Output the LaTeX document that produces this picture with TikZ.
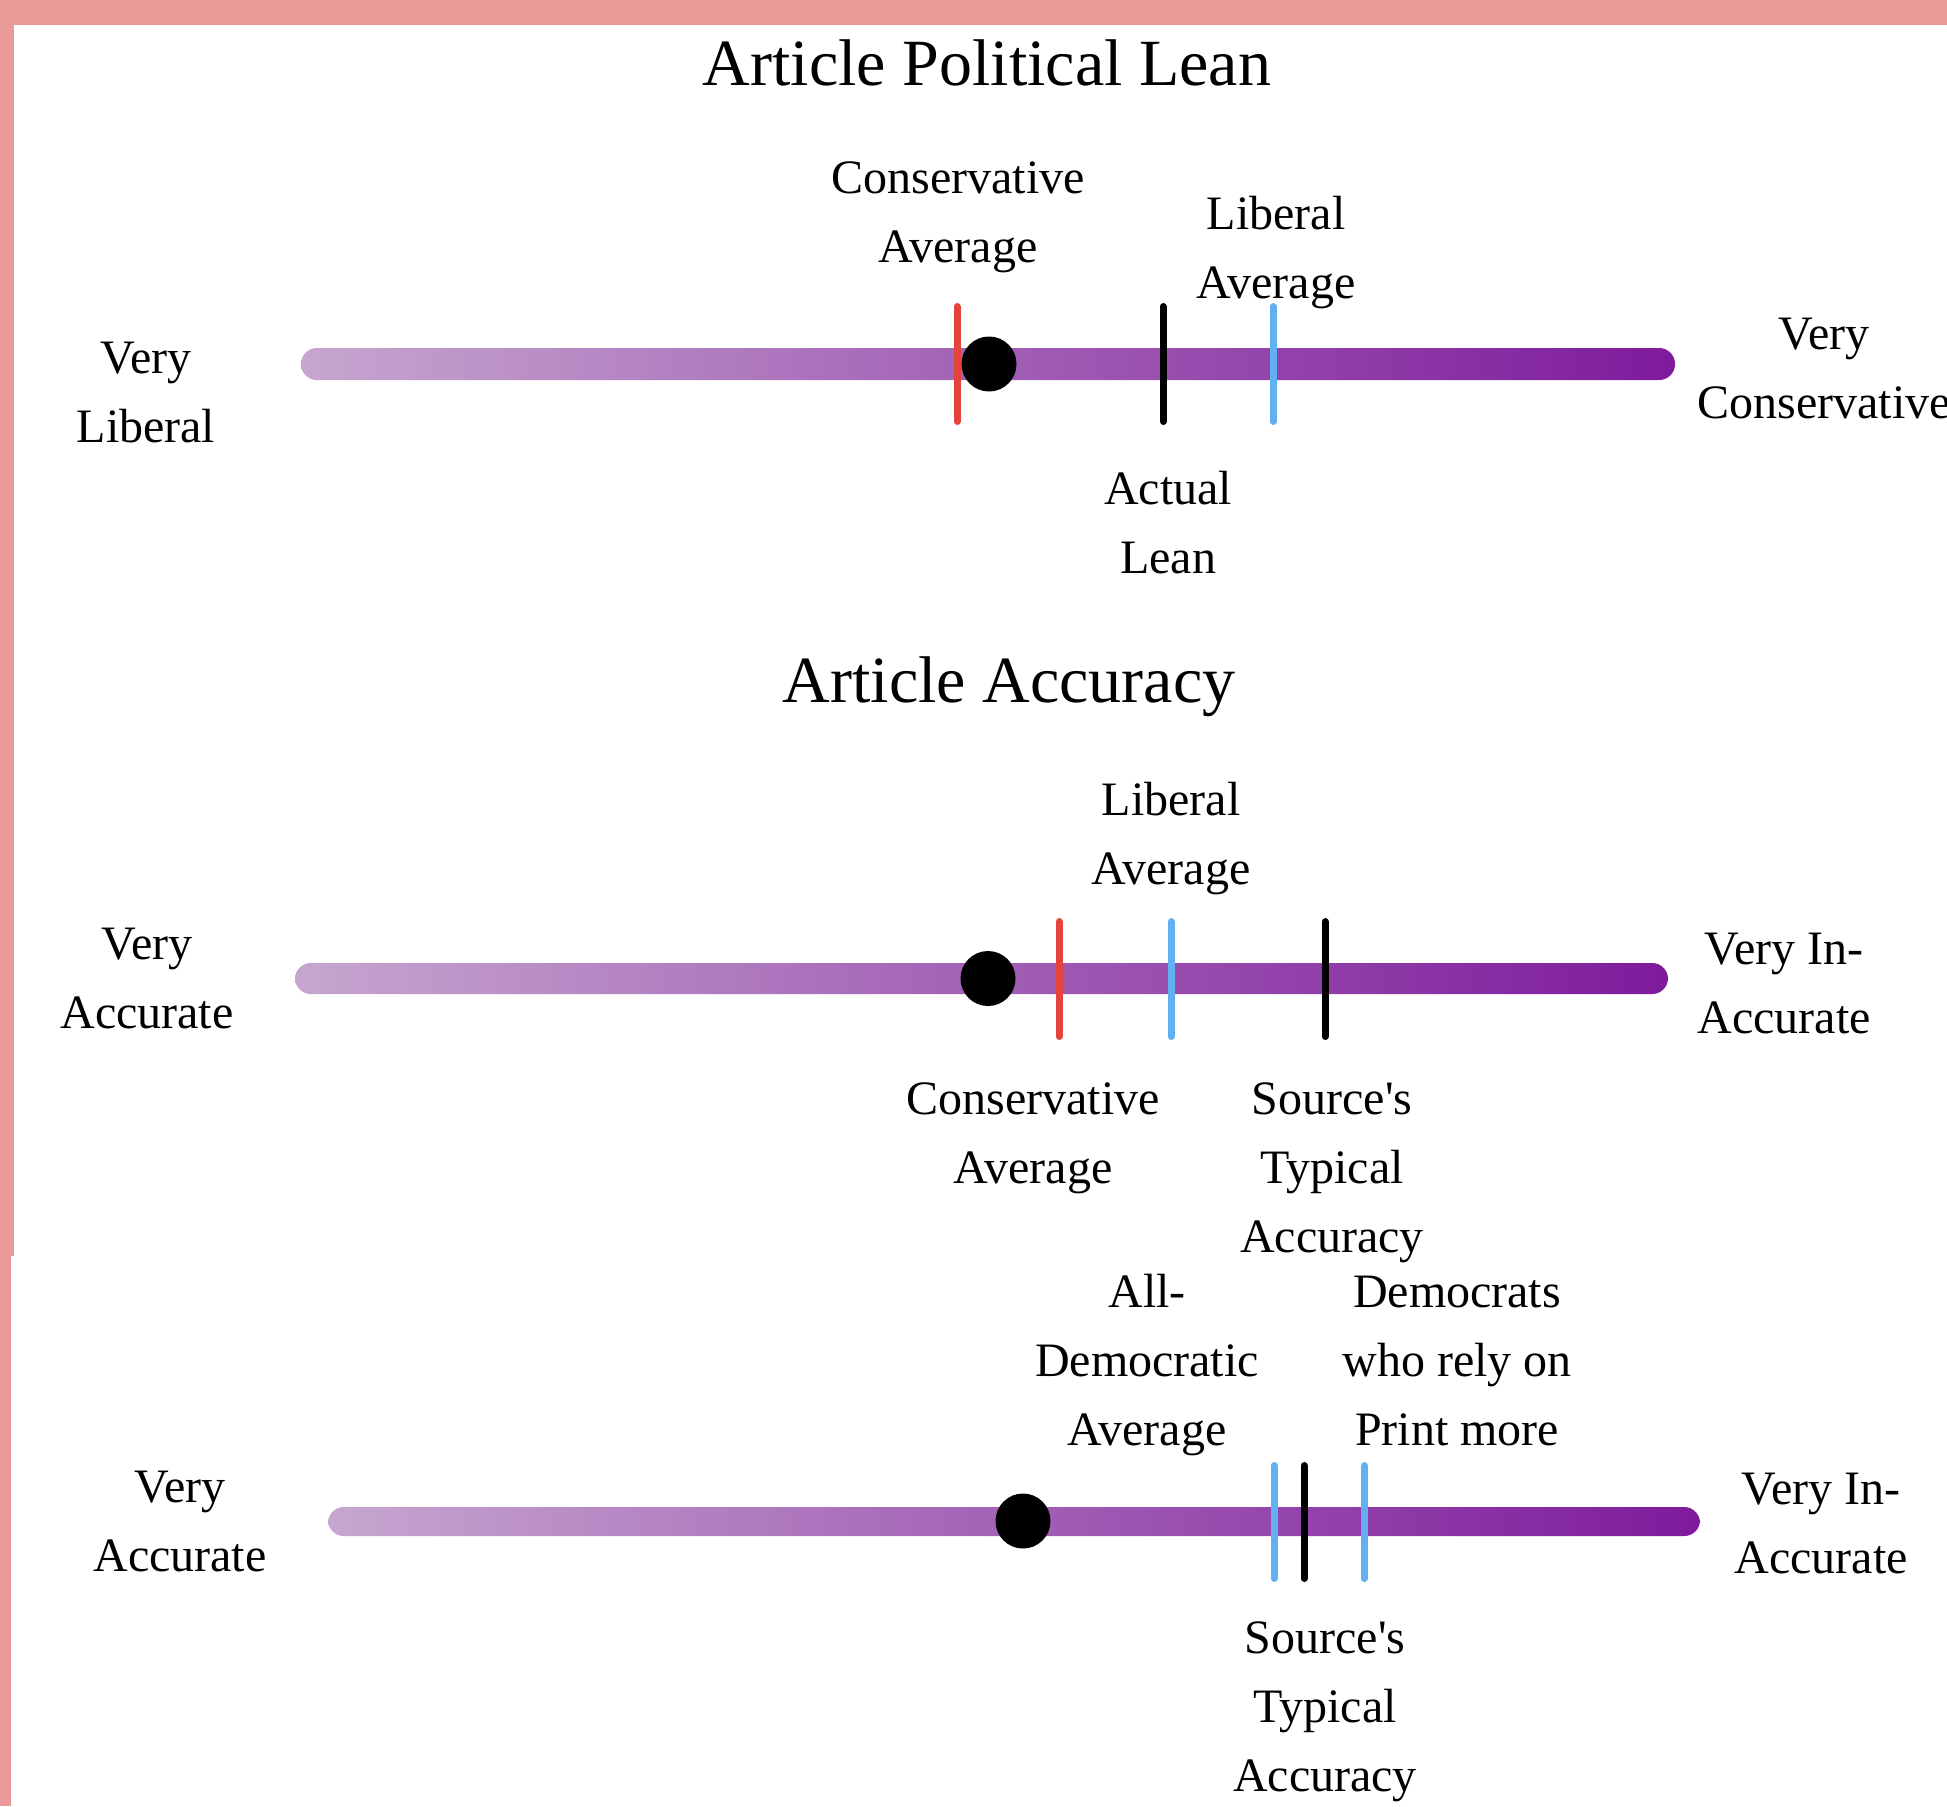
\documentclass[tikz,border=0pt]{standalone}
\usepackage{fontspec}
\setmainfont{Liberation Serif}
\definecolor{borderpink}{HTML}{EA9999}
\definecolor{barlight}{HTML}{C6A6CF}
\definecolor{bardark}{HTML}{7E1B9C}
\definecolor{tickred}{HTML}{E4443B}
\definecolor{tickblue}{HTML}{62B0F2}
\begin{document}
\begin{tikzpicture}[x=0.5pt,y=-0.5pt,
  lbl/.style={align=center,anchor=base,inner sep=0pt,font=\fontsize{24pt}{34.5pt}\selectfont},
  ttl/.style={anchor=base,inner sep=0pt,font=\fontsize{33pt}{40pt}\selectfont},
  tickline/.style={line width=3.5pt,line cap=round},
  pillbar/.style={left color=barlight,right color=bardark,rounded corners=7.9pt},
  dot/.style={circle,fill=black,minimum size=27.5pt,inner sep=0pt}]
\useasboundingbox (0,0) rectangle (1947,1806);
\clip (0,0) rectangle (1947,1806);
% border
\fill[borderpink] (0,0) rectangle (1947,25);
\fill[borderpink] (0,0) rectangle (14,1256);
\fill[borderpink] (0,1256) rectangle (11,1806);

% (label nodes are placed at the baseline of their last line)

% ---------- Panel 1: political lean ----------
\node[ttl] (title1) at (987,85) {Article Political Lean};
\shade[pillbar] (301,348) rectangle (1675,380);
\draw[tickline,tickred]  (957,306.5) -- (957,421.5);
\draw[tickline,black]    (1163,306.5) -- (1163,421.5);
\draw[tickline,tickblue] (1273,306.5) -- (1273,421.5);
\node[dot] (dot1) at (989,364) {};
\node[lbl] (ca1) at (958,262) {Conservative\\Average};
\node[lbl] (la1) at (1276,298) {Liberal\\Average};
\node[lbl] (vl1) at (146,442) {Very\\Liberal};
\node[lbl] (vc1) at (1824,418) {Very\\Conservative};
\node[lbl] (al1) at (1168,573) {Actual\\Lean};

% ---------- Panel 2: accuracy ----------
\node[ttl] (title2) at (1009,702) {Article Accuracy};
\shade[pillbar] (295,963) rectangle (1668,994);
\draw[tickline,tickred]  (1059,921.5) -- (1059,1036.5);
\draw[tickline,tickblue] (1171,921.5) -- (1171,1036.5);
\draw[tickline,black]    (1325,921.5) -- (1325,1036.5);
\node[dot] (dot2) at (988,978.5) {};
\node[lbl] (la2) at (1171,884) {Liberal\\Average};
\node[lbl] (va2) at (147,1028) {Very\\Accurate};
\node[lbl] (vi2) at (1784,1033) {Very In-\\Accurate};
\node[lbl] (ca2) at (1033,1183) {Conservative\\Average};
\node[lbl] (st2) at (1332,1252) {Source\textquotesingle s\\Typical\\Accuracy};

% ---------- Panel 3: accuracy by group ----------
\shade[pillbar] (328,1507) rectangle (1700,1536);
\draw[tickline,tickblue] (1274,1465.5) -- (1274,1578.5);
\draw[tickline,black]    (1304,1465.5) -- (1304,1578.5);
\draw[tickline,tickblue] (1364,1465.5) -- (1364,1578.5);
\node[dot] (dot3) at (1023,1521) {};
\node[lbl] (ad3) at (1147,1445) {All-\\Democratic\\Average};
\node[lbl] (dp3) at (1457,1445) {Democrats\\who rely on\\Print more};
\node[lbl] (va3) at (180,1571) {Very\\Accurate};
\node[lbl] (vi3) at (1821,1573) {Very In-\\Accurate};
\node[lbl] (st3) at (1325,1791) {Source\textquotesingle s\\Typical\\Accuracy};
\end{tikzpicture}
\end{document}
